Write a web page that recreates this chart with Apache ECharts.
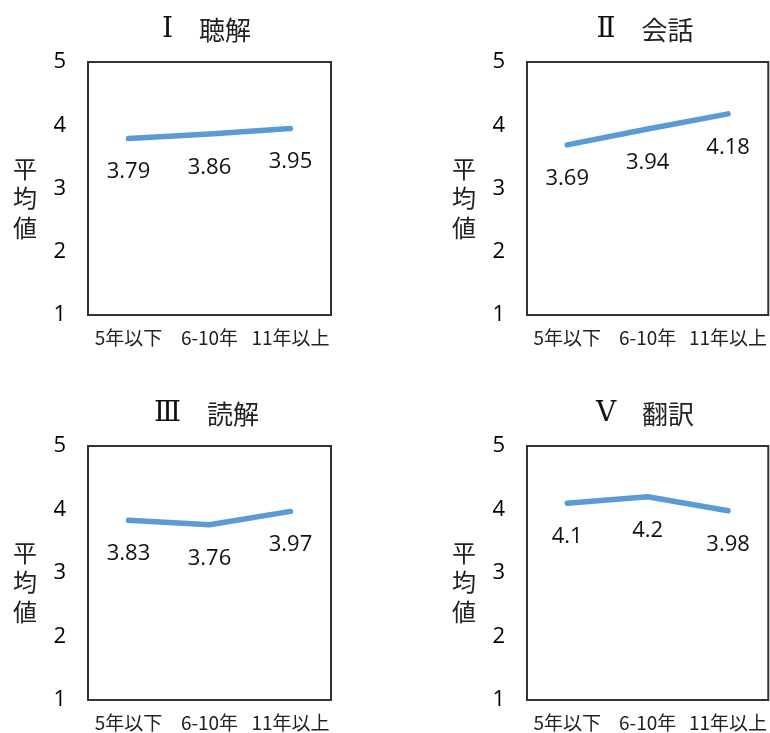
<!DOCTYPE html>
<html><head><meta charset="utf-8">
<script src="https://cdn.jsdelivr.net/npm/echarts@6/dist/echarts.min.js"></script>
<style>html,body{margin:0;padding:0;background:#fff}#c{width:770px;height:733px}</style>
</head><body><div id="c"></div>
<script>
// ---- data ----
const categories = ['5年以下', '6-10年', '11年以上'];
const numerals = ['Ⅰ', 'Ⅱ', 'Ⅲ', 'Ⅴ'];
const panelNames = ['聴解', '会話', '読解', '翻訳'];
const listening = [3.79, 3.86, 3.95];
const conversation = [3.69, 3.94, 4.18];
const reading = [3.83, 3.76, 3.97];
const translation = [4.1, 4.2, 3.98];
const yMin = 1, yMax = 5, yStep = 1;
const yName = '平均値';

const seriesData = [listening, conversation, reading, translation];

// ---- layout ----
const grids = [
  {left: 88, top: 62, width: 243, height: 253},
  {left: 527, top: 62, width: 242, height: 253},
  {left: 88, top: 446, width: 243, height: 254},
  {left: 527, top: 446, width: 242, height: 254}
];
const LINE = '#5B9BD5';
const NUM_FONT = '"Open Sans", "Liberation Sans", sans-serif';
const CJK_FONT = '"Noto Sans CJK JP", sans-serif';

const option = {
  backgroundColor: '#ffffff',
  animation: false,
  title: [],
  grid: grids.map(g => Object.assign({show: true, borderColor: '#333333', borderWidth: 2, backgroundColor: 'transparent'}, g)),
  xAxis: grids.map((g, i) => ({
    type: 'category', gridIndex: i, data: categories, boundaryGap: true,
    axisLine: {show: false}, axisTick: {show: false}, splitLine: {show: false},
    axisLabel: {color: '#222', fontSize: 19, fontFamily: CJK_FONT, margin: 13, interval: 0}
  })),
  yAxis: grids.map((g, i) => ({
    type: 'value', gridIndex: i, min: yMin, max: yMax, interval: yStep,
    axisLine: {show: false}, axisTick: {show: false}, splitLine: {show: false},
    axisLabel: {color: '#000', fontSize: 22, fontFamily: NUM_FONT, margin: 22}
  })),
  series: seriesData.map((d, i) => ({
    type: 'line', xAxisIndex: i, yAxisIndex: i, data: d,
    symbol: 'circle', symbolSize: 1, showSymbol: true,
    itemStyle: {color: LINE},
    lineStyle: {color: LINE, width: 5.5, cap: 'round', join: 'round'},
    label: {show: true, position: 'bottom', distance: 22, color: '#111', fontSize: 22, fontFamily: NUM_FONT}
  }))
};

grids.forEach((g, i) => {
  const cx = g.left + g.width / 2 - 3;
  option.title.push({
    text: '{r|' + numerals[i] + '}　{k|' + panelNames[i] + '}',
    left: cx, top: g.top - 47, textAlign: 'center', padding: 0,
    textStyle: {
      fontWeight: 'normal',
      rich: {
        r: {fontFamily: '"Liberation Serif", "DejaVu Serif", serif', fontSize: 28, fontWeight: 'normal', color: '#111', lineHeight: 30},
        k: {fontFamily: CJK_FONT, fontSize: 26, fontWeight: 'normal', color: '#222', lineHeight: 30}
      },
      fontSize: 26, fontFamily: CJK_FONT, color: '#222', lineHeight: 30
    }
  });
  option.title.push({
    text: yName.split('').join('\n'),
    left: g.left - 63, top: g.top + 92, textAlign: 'center', padding: 0,
    textStyle: {fontFamily: CJK_FONT, fontSize: 24, fontWeight: 'normal', color: '#222', lineHeight: 29.5}
  });
});

const chart = echarts.init(document.getElementById('c'), null, {renderer: 'canvas'});
chart.setOption(option);
</script>
</body></html>
